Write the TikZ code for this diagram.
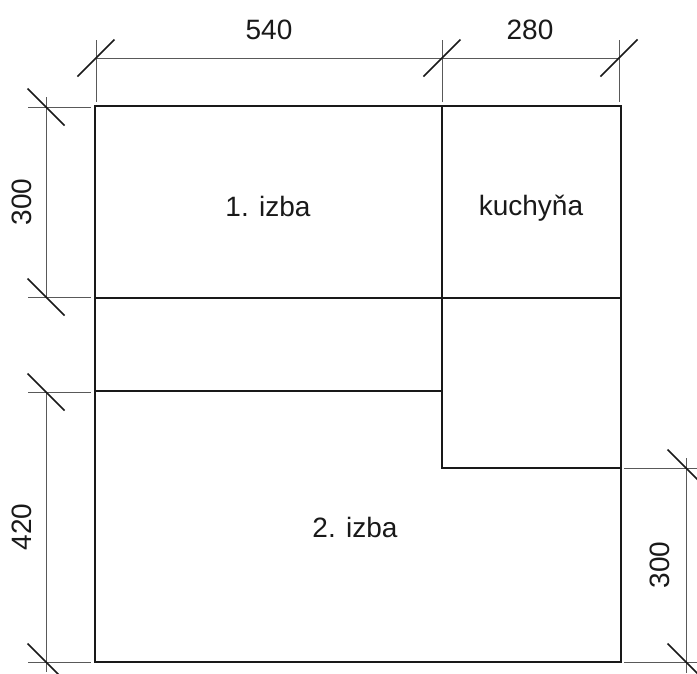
\documentclass[tikz,border=0pt]{standalone}
\usepackage{fontspec}
\setmainfont{Liberation Sans}
\begin{document}
\begin{tikzpicture}[x=1pt,y=-1pt,
  wall/.style={draw=black!90,line width=2pt},
  dimline/.style={draw=black!65,line width=0.9pt},
  tick/.style={draw=black!90,line width=1.6pt},
  lbl/.style={font=\fontsize{28}{30}\selectfont,text=black!90,inner sep=0pt}]
\useasboundingbox (0,0) rectangle (697,673);
% walls
\draw[wall] (95,106) rectangle (621,662);
\draw[wall] (442,106) -- (442,468) -- (621,468);
\draw[wall] (95,298) -- (621,298);
\draw[wall] (95,391) -- (442,391);
% top dimension
\draw[dimline] (96,40) -- (96,102);
\draw[dimline] (442,40) -- (442,102);
\draw[dimline] (619,40) -- (619,102);
\draw[dimline] (96,58) -- (619,58);
\foreach \x in {96,442,619} \draw[tick] (\x-18.5,76.5) -- (\x+18.5,39.5);
\node[lbl] (d540) at (269,30) {540};
\node[lbl] (d280) at (530,30) {280};
% left dimension
\draw[dimline] (28,107) -- (91,107);
\draw[dimline] (28,297) -- (91,297);
\draw[dimline] (28,392) -- (91,392);
\draw[dimline] (28,662) -- (91,662);
\draw[dimline] (46,97) -- (46,297);
\draw[dimline] (46,392) -- (46,672);
\foreach \y in {107,297,392,662} \draw[tick] (27.5,\y-18.5) -- (64.5,\y+18.5);
\node[lbl,rotate=90] (d300a) at (22,202) {300};
\node[lbl,rotate=90] (d420) at (22,527) {420};
% right dimension
\draw[dimline] (624,468) -- (697,468);
\draw[dimline] (624,662) -- (697,662);
\draw[dimline] (686,458) -- (686,673);
\foreach \y in {468,662} \draw[tick] (667.5,\y-18.5) -- (704.5,\y+18.5);
\node[lbl,rotate=90] (d300b) at (660,565) {300};
% rooms
\node[lbl] (izba1) at (268,206) {1. izba};
\node[lbl] (kuch) at (531,208) {kuchyňa};
\node[lbl] (izba2) at (355,527) {2. izba};
\end{tikzpicture}
\end{document}
